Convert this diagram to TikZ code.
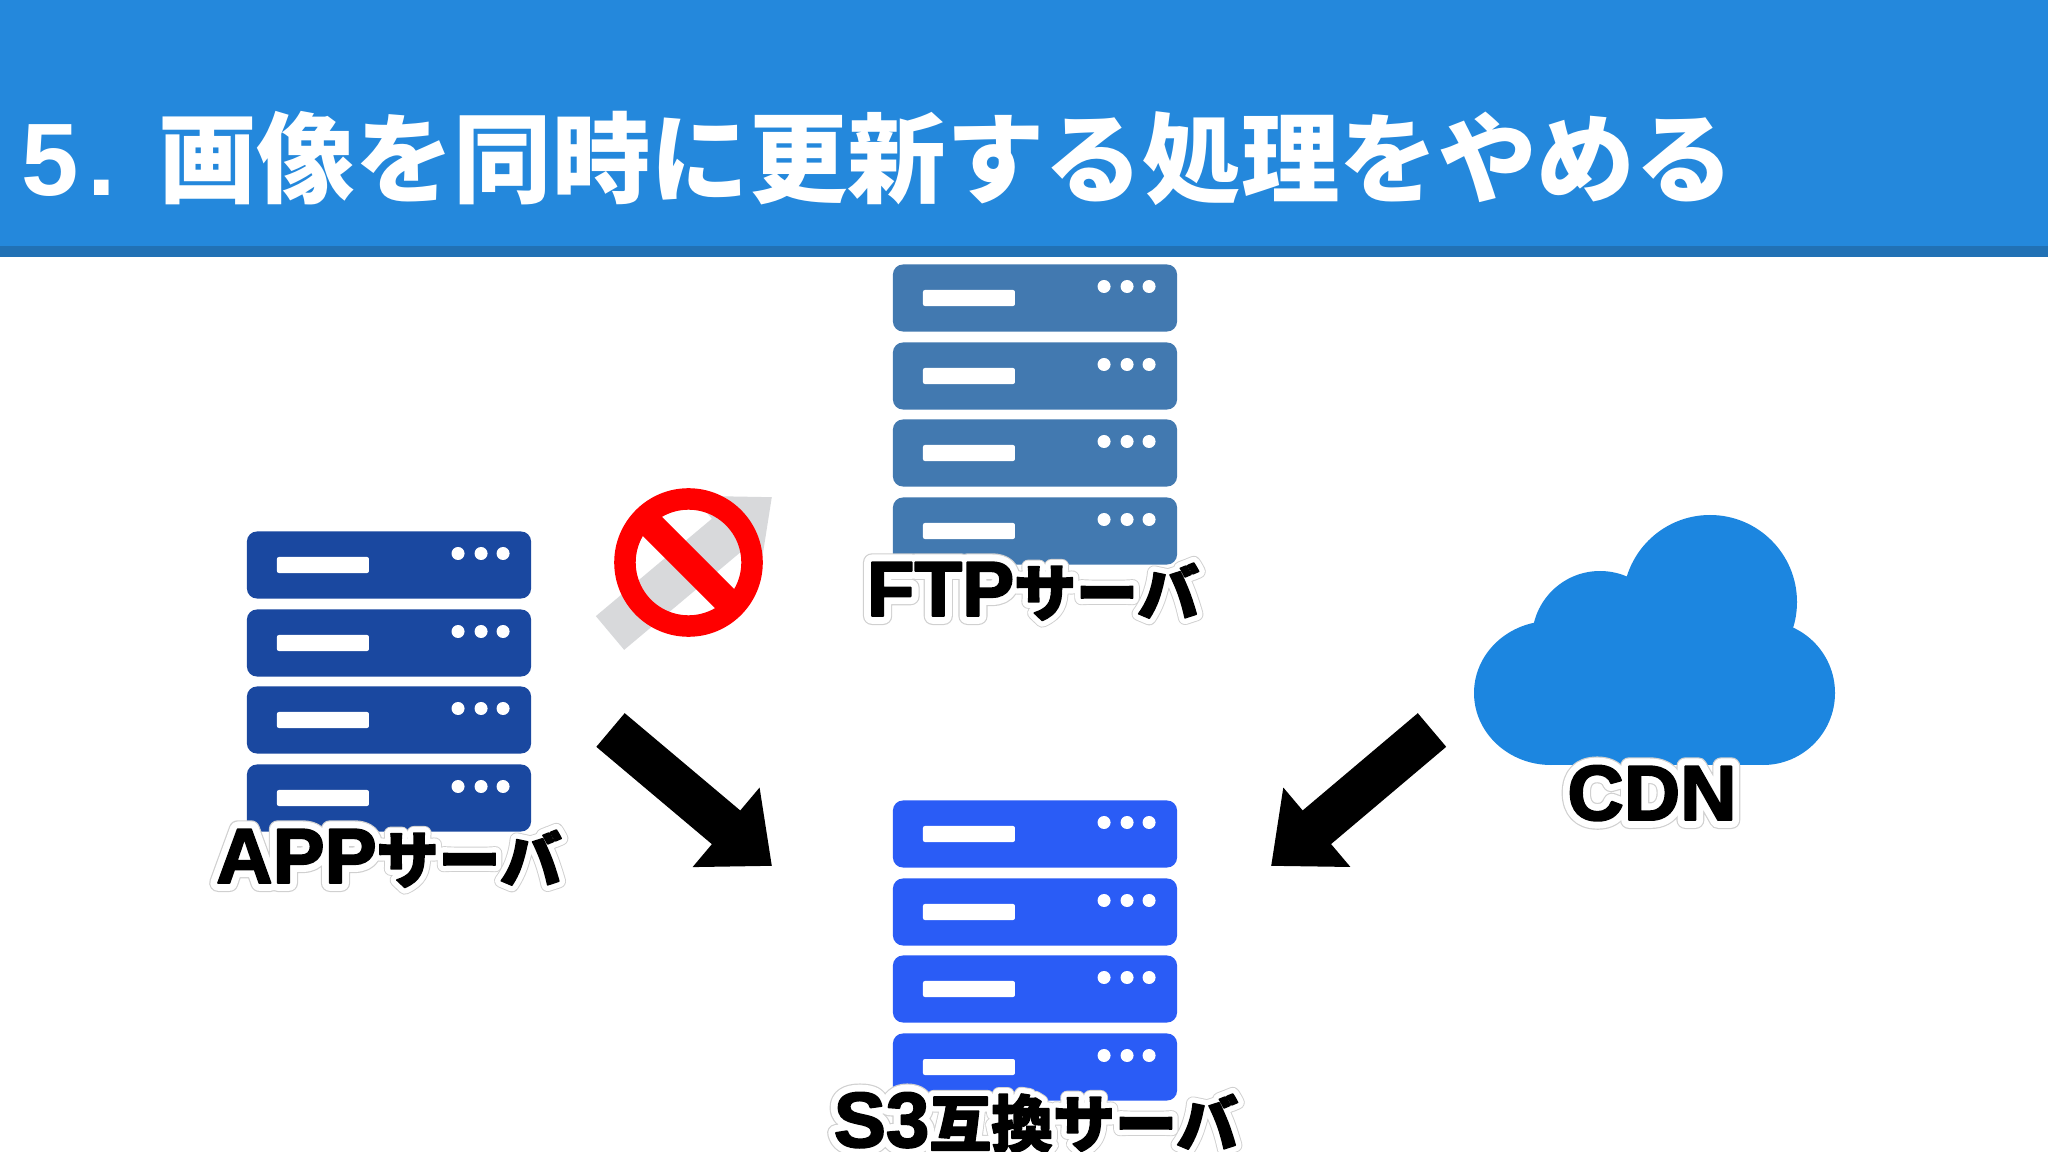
\documentclass[tikz,border=0pt]{standalone}
\usepackage{fontspec}
\usepackage{xcolor}
\usetikzlibrary{arrows.meta}
\setmainfont{Liberation Sans}
\newfontfamily\cjk{Noto Sans CJK JP}
\newfontfamily\latblack[BoldFeatures={FakeBold=2.5}]{Liberation Sans}
\newfontfamily\kanablack[BoldFeatures={FakeBold=2.5}]{Noto Sans CJK JP}
\newfontfamily\lathalo[BoldFeatures={FakeBold=20}]{Liberation Sans}
\newfontfamily\kanahalo[BoldFeatures={FakeBold=20}]{Noto Sans CJK JP}
\newfontfamily\latedge[BoldFeatures={FakeBold=23}]{Liberation Sans}
\newfontfamily\kanaedge[BoldFeatures={FakeBold=23}]{Noto Sans CJK JP}
\definecolor{headblue}{HTML}{2488DC}
\definecolor{headdark}{HTML}{2171B5}
\definecolor{appblue}{HTML}{1A48A0}
\definecolor{ftpblue}{HTML}{4279B0}
\definecolor{sthreeblue}{HTML}{2A5CF6}
\definecolor{cloudblue}{HTML}{1C86E0}
\definecolor{ghostgray}{HTML}{D8D9DB}
\definecolor{edgegray}{HTML}{D0D0D0}
\definecolor{signred}{HTML}{FF0000}
\newcommand{\labelrun}[4]{{#1\bfseries\fontsize{22.2}{27}\selectfont #3}{#2\bfseries\fontsize{17.6}{27}\selectfont #4}}
\newcommand{\halolabel}[2]{%
  \special{pdf:code 1 J 1 j}%
  \makebox[0pt][l]{\color{edgegray}\labelrun{\latedge}{\kanaedge}{#1}{#2}}%
  \makebox[0pt][l]{\color{white}\labelrun{\lathalo}{\kanahalo}{#1}{#2}}%
  \labelrun{\latblack}{\kanablack}{#1}{#2}}
% one rack: name, centre x, top row centre y, colour
\newcommand{\serverrack}[4]{%
  \foreach \row/\dy in {1/0,2/78,3/155,4/233} {
    \node[rackrow,fill=#4] (#1\row) at (#2,#3+\dy) {};
    \node[rackbar] (#1bar\row) at ([xshift=-.66cm]#1\row.center) {};
    \foreach \led/\dx in {a/.69,b/.92,c/1.14}
      \node[rackled] (#1led\row\led) at ([xshift=\dx cm,yshift=.115cm]#1\row.center) {};
  }}
\tikzset{
  rackrow/.style={rectangle,rounded corners=.1cm,minimum width=2.84cm,minimum height=.67cm,inner sep=0pt,outer sep=0pt},
  rackbar/.style={rectangle,rounded corners=.02cm,fill=white,minimum width=.92cm,minimum height=.16cm,inner sep=0pt},
  rackled/.style={circle,fill=white,minimum size=.13cm,inner sep=0pt},
  bigarrow/.style={line width=.44cm,-{Triangle[length=.6cm,width=1cm]}},
  srvlabel/.style={anchor=base,inner sep=0pt}
}
\begin{document}
\begin{tikzpicture}[x=.01cm,y=-.01cm]
  \useasboundingbox (0,0) rectangle (2048,1152);
  \fill[white] (0,0) rectangle (2048,1152);
  % header band
  \fill[headblue] (0,0) rectangle (2048,246);
  \fill[headdark] (0,246) rectangle (2048,257);
  \node[anchor=base west,inner sep=0pt,text=white] (title) at (21,196)
    {{\bfseries\fontsize{29.3}{32}\selectfont 5\kern2.3pt.}\hspace{12.1pt}{\cjk\bfseries\fontsize{28}{32}\selectfont 画像を同時に更新する処理をやめる}};
  % servers
  \serverrack{app}{389}{565}{appblue}
  \serverrack{ftp}{1035}{298}{ftpblue}
  \serverrack{sthree}{1035}{834}{sthreeblue}
  % cloud
  \foreach \cx/\cy/\cr in {1763/693/72,1710/602/87,1600/639/68}
    \fill[cloudblue] (\cx,\cy) circle[radius=\cr];
  \fill[cloudblue] (1551,693) ellipse[x radius=77,y radius=72];
  \fill[cloudblue] (1551,640) rectangle (1763,765);
  % arrows
  \coordinate (appout) at (610.5,730);
  \coordinate (sthreeleft) at (772,866);
  \coordinate (cdnout) at (1432,730);
  \coordinate (sthreeright) at (1271,866);
  \coordinate (appup) at (610,633);
  \coordinate (ftpleft) at (772,497);
  \draw[bigarrow,ghostgray] (appup) -- (ftpleft);
  \draw[bigarrow] (appout) -- (sthreeleft);
  \draw[bigarrow] (cdnout) -- (sthreeright);
  % no entry sign
  \node[circle,draw=signred,line width=.215cm,minimum size=1.27cm,inner sep=0pt] (nosign) at (688.5,562.5) {};
  \draw[signred,line width=.27cm,shorten <=.03cm,shorten >=.03cm] (nosign.135) -- (nosign.-45);
  % labels
  \node[srvlabel] (applabel) at (389,883) {\halolabel{APP}{サーバ}};
  \node[srvlabel] (ftplabel) at (1033,616) {\halolabel{FTP}{サーバ}};
  \node[srvlabel] (sthreelabel) at (1036,1147) {\halolabel{S3}{互換サーバ}};
  \node[srvlabel] (cdnlabel) at (1652,820) {\halolabel{CDN}{}};
\end{tikzpicture}
\end{document}
